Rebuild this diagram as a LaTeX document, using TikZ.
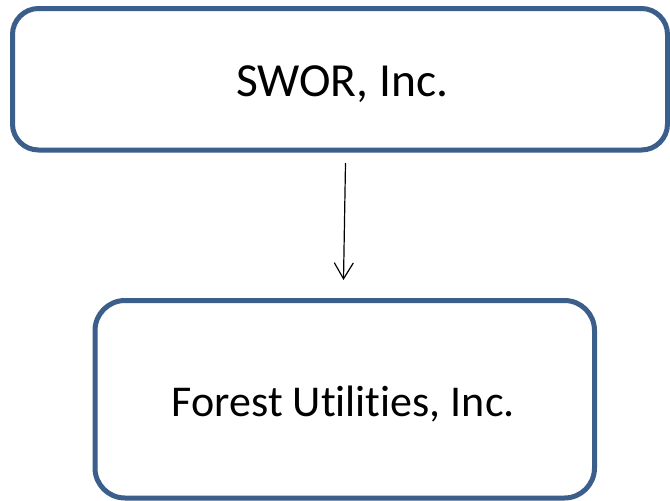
\documentclass[tikz,border=0pt]{standalone}
\usepackage{fontspec}
\setmainfont{Carlito}[Ligatures={NoCommon,NoContextual}]
\usetikzlibrary{arrows.meta}
\definecolor{boxblue}{RGB}{59,94,139}
\tikzset{
  orgbox/.style={draw=boxblue, line width=5pt, rounded corners=26pt, fill=white, inner sep=0pt},
  orglabel/.style={inner sep=0pt, text=black, anchor=base},
  link/.style={line width=1.2pt, -{Straight Barb[length=16pt,width=19pt,line width=1.2pt]}}
}
\begin{document}
\begin{tikzpicture}[x=1pt,y=-1pt]
\useasboundingbox (0,0) rectangle (670,501);
\node[orgbox, minimum width=655pt, minimum height=141.5pt] (swor) at (340,79.25) {};
\node[orglabel, font=\fontsize{47.5}{57}\selectfont] (sworlabel) at (342.2,96.7) {SWOR, Inc.};
\node[orgbox, rounded corners=30pt, minimum width=499.5pt, minimum height=197.5pt] (forest) at (344.75,399.25) {};
\node[orglabel, font=\fontsize{44}{53}\selectfont] (forestlabel) at (343.4,416.7) {Forest Utilities, Inc.};
\coordinate (a1) at (345.5,163);
\coordinate (a2) at (343.5,280);
\draw[link] (a1) -- (a2);
\end{tikzpicture}
\end{document}
